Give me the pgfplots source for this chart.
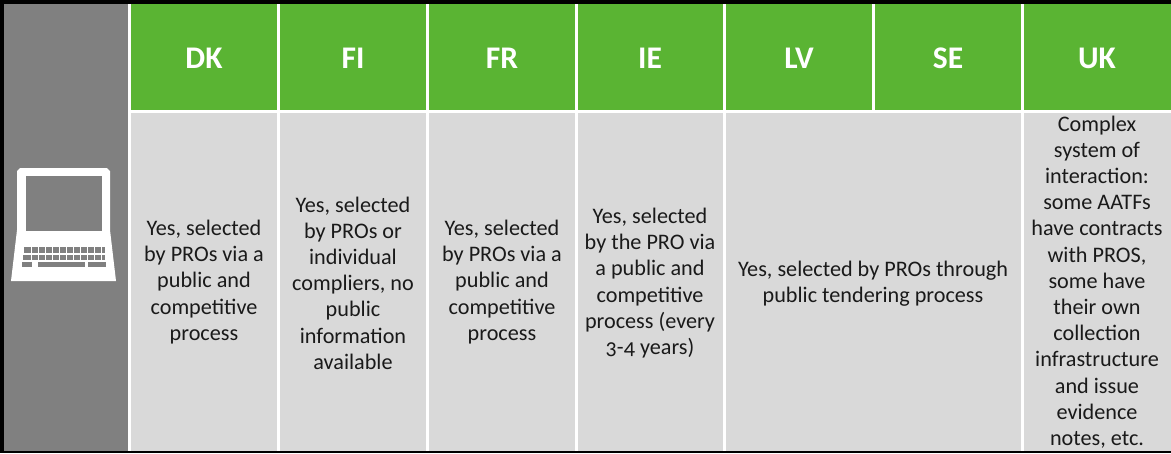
\documentclass[border=0pt]{standalone}
\usepackage{fontspec}
\setmainfont[Numbers=OldStyle]{Carlito}
\usepackage{pgfplots}
\pgfplotsset{compat=1.18}
\definecolor{grn}{HTML}{5AB433}
\definecolor{lgr}{HTML}{D9D9D9}
\definecolor{dgr}{HTML}{808080}
\definecolor{txt}{HTML}{1A1A1A}
\newcommand{\rect}[5]{\addplot[fill=#5,draw=none,forget plot] coordinates {(#1,#2)(#3,#2)(#3,#4)(#1,#4)} -- cycle;}
\tikzset{body/.style={align=center,text=txt,font=\fontsize{22.2}{26.2}\selectfont,inner sep=0pt},
 head/.style={text=white,font=\fontsize{31.5}{32}\selectfont\bfseries,inner sep=0pt}}
\begin{document}
\begin{tikzpicture}
\begin{axis}[scale only axis,width=1171pt,height=453pt,xmin=0,xmax=1171,ymin=0,ymax=453,y dir=reverse,hide axis,clip=true]
\rect{0}{0}{1171}{453}{white}
\rect{0}{0}{1171}{4}{black}
\rect{0}{0}{4}{453}{black}
\rect{4}{4}{128}{451}{dgr}
\rect{131}{4}{277}{110}{grn}
\rect{280}{4}{426}{110}{grn}
\rect{429}{4}{575}{110}{grn}
\rect{578}{4}{723}{110}{grn}
\rect{726}{4}{872}{110}{grn}
\rect{875}{4}{1021}{110}{grn}
\rect{1024}{4}{1171}{110}{grn}
\rect{131}{113}{277}{451}{lgr}
\rect{280}{113}{426}{451}{lgr}
\rect{429}{113}{575}{451}{lgr}
\rect{578}{113}{723}{451}{lgr}
\rect{726}{113}{1021}{451}{lgr}
\rect{1024}{113}{1171}{451}{lgr}
\rect{0}{451}{1171}{453}{black}
\addplot[fill=white,draw=none,forget plot] coordinates {(20,168)(107,168)(110,171)(110,230)(116,281)(11,281)(17,230)(17,171)} -- cycle;
\rect{26}{176}{102}{231}{dgr}
\rect{24}{247}{105}{253}{dgr}
\rect{23}{255}{105}{260}{dgr}
\rect{22}{262}{32}{267}{dgr}
\rect{38}{262}{85}{267}{dgr}
\rect{88}{262}{106}{267}{dgr}
\rect{30.5}{247}{31.5}{260}{white}
\rect{37.5}{247}{38.5}{260}{white}
\rect{44.5}{247}{45.5}{260}{white}
\rect{51.5}{247}{52.5}{260}{white}
\rect{58.5}{247}{59.5}{260}{white}
\rect{65.5}{247}{66.5}{260}{white}
\rect{72.5}{247}{73.5}{260}{white}
\rect{79.5}{247}{80.5}{260}{white}
\rect{86.5}{247}{87.5}{260}{white}
\rect{93.5}{247}{94.5}{260}{white}
\rect{100.5}{247}{101.5}{260}{white}
\node[head] at (axis cs:204,58) {DK};
\node[head] at (axis cs:353,58) {FI};
\node[head] at (axis cs:502,58) {FR};
\node[head] at (axis cs:650,58) {IE};
\node[head] at (axis cs:799,58) {LV};
\node[head] at (axis cs:948,58) {SE};
\node[head] at (axis cs:1097,58) {UK};
\node[body] at (axis cs:204,282) {Yes, selected\\by PROs via a\\public and\\competitive\\process};
\node[body] at (axis cs:353,283) {Yes, selected\\by PROs or\\individual\\compliers, no\\public\\information\\available};
\node[body] at (axis cs:502,282) {Yes, selected\\by PROs via a\\public and\\competitive\\process};
\node[body] at (axis cs:650,283) {Yes, selected\\by the PRO via\\a public and\\competitive\\process (every\\3-4 years)};
\node[body] at (axis cs:873,284) {Yes, selected by PROs through\\public tendering process};
\node[body] at (axis cs:1097,282) {Complex\\system of\\interaction:\\some AATFs\\have contracts\\with PROS,\\some have\\their own\\collection\\infrastructure\\and issue\\evidence\\notes, etc.};
\end{axis}
\end{tikzpicture}
\end{document}
